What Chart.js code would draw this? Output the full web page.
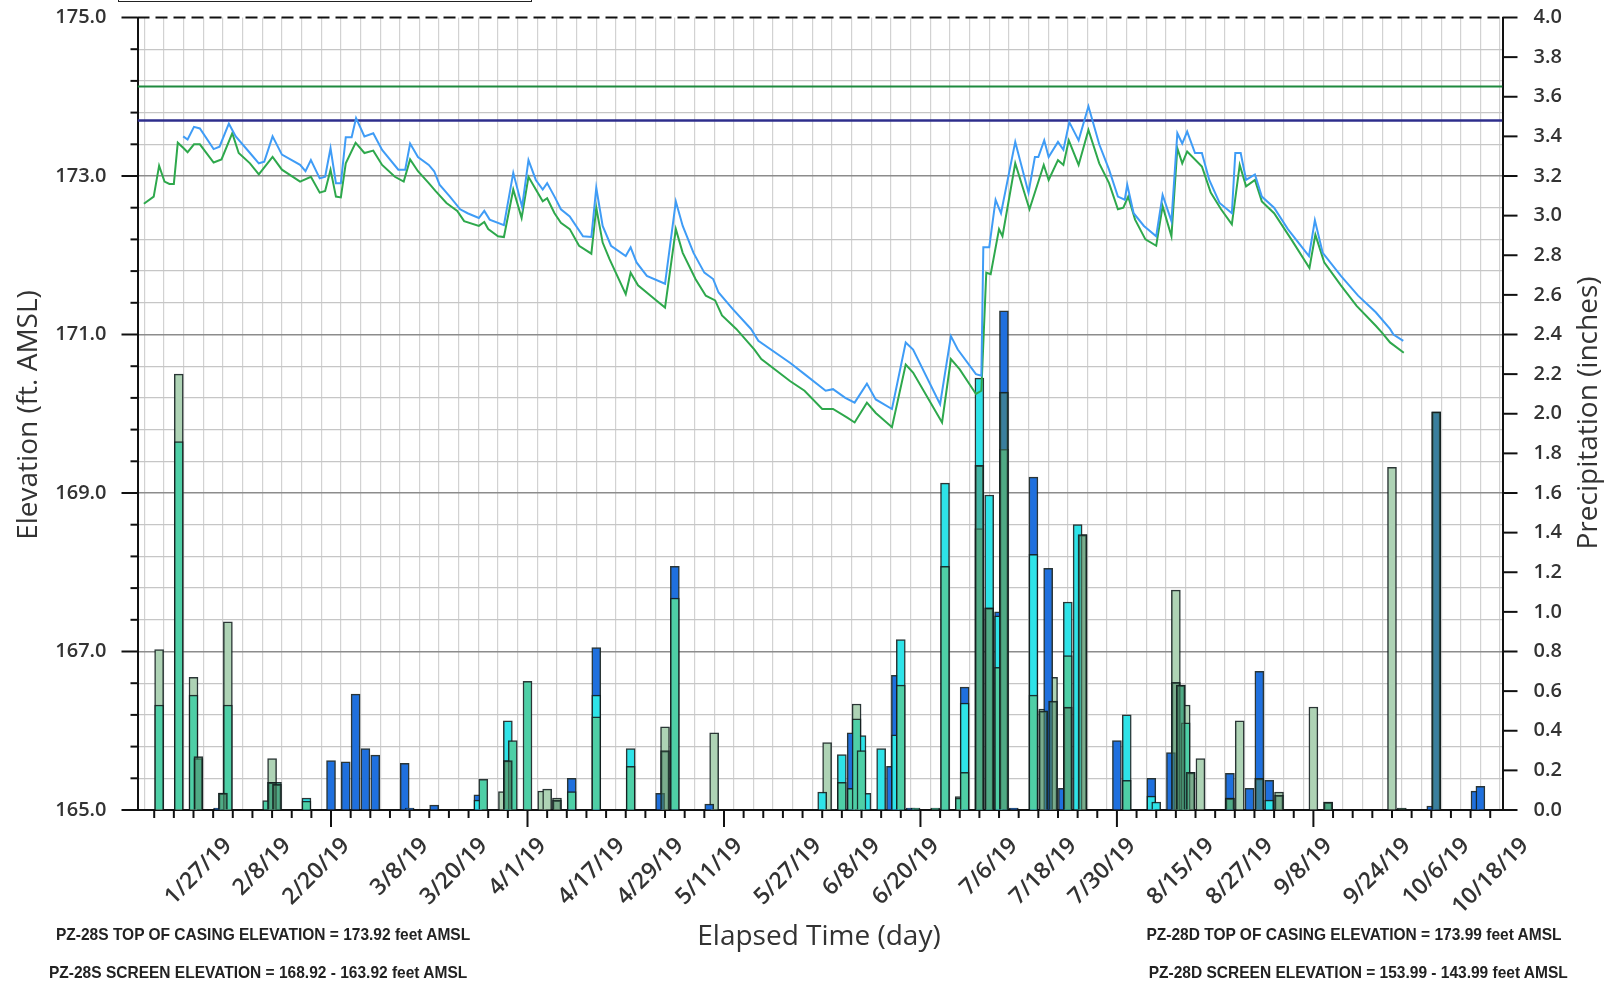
<!DOCTYPE html>
<html>
<head>
<meta charset="utf-8">
<title>PZ-28 Hydrograph</title>
<script src="https://cdn.jsdelivr.net/npm/chart.js@4.4.1/dist/chart.umd.min.js"></script>
<style>
  html, body { margin: 0; padding: 0; background: #fff; }
  #wrap { position: relative; width: 1610px; height: 984px; overflow: hidden; }
  #hydro { position: absolute; left: 0; top: 0; }
  .note {
    position: absolute;
    font-family: 'Liberation Sans', Arial, sans-serif;
    font-weight: bold;
    font-size: 16.5px;
    line-height: 18px;
    color: #222;
    white-space: nowrap;
    transform: scaleX(0.94);
  }
  .note.l { transform-origin: left center; }
  .note.r { transform-origin: right center; }
  .legend-box { position: absolute; left: 118px; top: -30px; width: 412px; height: 30px; border: 1.5px solid #222; }
</style>
</head>
<body>
<div id="wrap">
  <canvas id="hydro" width="1610" height="984"></canvas>
  <div class="legend-box"></div>
  <div class="note l" style="left:56px; top:925px;">PZ-28S TOP OF CASING ELEVATION = 173.92 feet AMSL</div>
  <div class="note l" style="left:49px; top:963px;">PZ-28S SCREEN ELEVATION = 168.92 - 163.92 feet AMSL</div>
  <div class="note r" style="right:49px; top:925px;">PZ-28D TOP OF CASING ELEVATION = 173.99 feet AMSL</div>
  <div class="note r" style="right:42px; top:963px;">PZ-28D SCREEN ELEVATION = 153.99 - 143.99 feet AMSL</div>
</div>
<script>
// x values are days since 1/1/19

// PZ-28S water level (ft AMSL)
const pz28sDays = [19.9,20.8,22.1,23.3,26.1,27.3,29.2,30.6,33.5,35.3,36.4,38.1,40.0,43.7,44.8,45.9,47.7,48.8,49.9,51.0,52.0,53.0,54.2,55.1,56.8,58.6,60.4,63.7,65.1,66.1,67.7,69.9,71.0,72.1,74.2,76.3,77.8,80.1,81.2,82.3,85.2,87.1,88.9,90.2,91.7,93.1,94.0,95.5,96.8,98.6,101.3,103.0,104.0,105.3,107.0,110.0,111.0,112.2,114.3,118.0,120.2,121.6,123.8,126.0,127.8,128.9,131.8,135.5,137.0,143.5,146.4,150.7,152.2,154.7,156.6,159.1,160.9,164.2,167.0,168.5,174.0,176.2,177.6,181.3,182.4,182.8,184.0,185.3,186.4,189.3,192.0,193.3,194.0,195.2,196.1,198.0,199.1,200.3,202.2,204.2,206.4,208.4,210.2,211.6,212.1,213.4,215.5,218.0,219.3,221.1,222.3,223.3,224.3,225.9,227.3,228.8,230.9,233.4,234.1,235.2,236.3,238.1,239.5,242.0,244.8,249.1,250.3,251.9,255.6,259.1,262.7,265.6,266.3,268.3];
const pz28sLevel = [173.50,173.46,173.62,173.60,173.34,173.37,173.66,173.50,173.29,173.16,173.18,173.50,173.27,173.14,173.06,173.20,172.97,172.99,173.35,172.91,172.91,173.49,173.49,173.73,173.50,173.54,173.33,173.08,173.08,173.41,173.24,173.14,173.06,172.89,172.74,172.58,172.53,172.47,172.56,172.45,172.38,173.04,172.61,173.20,172.95,172.83,172.91,172.74,172.58,172.49,172.24,172.23,172.85,172.37,172.12,171.99,172.10,171.91,171.74,171.64,172.68,172.37,172.03,171.78,171.70,171.53,171.32,171.07,170.92,170.64,170.50,170.29,170.31,170.20,170.14,170.38,170.18,170.06,170.90,170.81,170.12,170.98,170.81,170.50,170.48,172.10,172.10,172.70,172.53,173.43,172.79,173.24,173.24,173.45,173.24,173.43,173.33,173.68,173.45,173.88,173.40,173.08,172.74,172.70,172.89,172.53,172.37,172.24,172.76,172.43,173.54,173.41,173.56,173.29,173.29,172.95,172.66,172.53,173.29,173.29,172.95,173.02,172.74,172.60,172.33,171.99,172.44,172.03,171.74,171.49,171.28,171.07,171.00,170.92];

// PZ-28D water level (ft AMSL)
const pz28dDays = [11.9,13.9,15.0,16.1,17.1,18.0,18.8,20.0,20.8,22.1,23.3,26.1,27.7,29.9,31.2,33.5,35.3,38.1,40.0,43.7,45.9,47.7,48.8,49.9,51.0,52.0,53.0,55.0,56.8,58.6,60.4,63.0,64.8,66.1,67.7,69.9,71.3,73.5,75.7,77.1,80.1,81.2,82.0,84.0,85.2,87.1,88.8,90.2,91.7,93.1,94.0,95.5,96.8,98.6,100.5,103.0,104.0,105.3,106.7,110.0,111.0,112.5,115.8,118.0,120.2,121.6,124.2,126.3,128.2,129.6,132.5,136.2,137.6,143.5,146.4,150.0,152.2,155.1,156.6,159.1,160.9,164.2,167.0,168.5,174.4,176.2,178.0,181.3,182.4,183.4,184.3,186.0,186.7,189.3,192.2,195.1,196.1,198.0,199.1,200.2,202.2,204.2,206.4,208.4,210.2,211.3,212.3,213.7,215.8,218.0,219.3,221.1,222.3,223.3,224.3,227.3,229.1,231.2,233.4,235.0,236.3,238.1,239.5,242.0,245.5,249.2,250.4,252.2,255.6,258.8,262.7,264.0,265.6,268.4];
const pz28dLevel = [172.65,172.74,173.13,172.93,172.90,172.90,173.42,173.35,173.30,173.40,173.40,173.17,173.21,173.54,173.29,173.16,173.02,173.24,173.08,172.93,172.99,172.79,172.81,173.08,172.74,172.73,173.16,173.42,173.29,173.32,173.14,172.99,172.93,173.21,173.06,172.91,172.81,172.66,172.56,172.43,172.37,172.42,172.33,172.24,172.23,172.83,172.47,172.99,172.83,172.68,172.72,172.53,172.41,172.33,172.12,172.02,172.60,172.16,171.95,171.51,171.78,171.62,171.45,171.34,172.33,172.03,171.70,171.49,171.43,171.24,171.07,170.81,170.69,170.41,170.29,170.06,170.06,169.95,169.89,170.14,170.01,169.83,170.62,170.52,169.89,170.69,170.56,170.25,170.29,171.78,171.76,172.33,172.24,173.16,172.58,173.14,172.95,173.20,173.14,173.45,173.14,173.58,173.16,172.91,172.58,172.60,172.74,172.45,172.20,172.12,172.62,172.24,173.35,173.16,173.31,173.12,172.79,172.58,172.39,173.14,172.87,172.95,172.68,172.53,172.20,171.84,172.26,171.91,171.62,171.36,171.11,171.02,170.90,170.77];

// reference elevations (ft AMSL)
const upperRefElev = 174.13;
const lowerRefElev = 173.70;

// daily precipitation (inches), one pair of arrays per gauge
const gaugeSageDays = [15,19,22,29,38,85,93,94,96,118,128,151,157,178,195,197,203,222,224,225,227,235,239,243,250,266];
const gaugeSageRain = [0.81,2.2,0.67,0.95,0.26,0.093,0.096,0.105,0.06,0.42,0.39,0.34,0.535,0.068,0.51,0.67,1.39,1.11,0.53,0.19,0.26,0.45,0.16,0.09,0.52,1.73];

const gaugeBlueDays = [27,50,53,55,57,59,65,66,71,80,99,104,117,120,127,156,164,165,168,179,186,187,189,193,196,199,210,217,221,233,237,239,241,274,275,283,284];
const gaugeBlueRain = [0.01,0.25,0.243,0.585,0.31,0.277,0.235,0.01,0.025,0.076,0.16,0.82,0.084,1.23,0.03,0.39,0.22,0.68,0.01,0.62,1.0,2.52,0.01,1.68,1.22,0.11,0.35,0.16,0.29,0.185,0.11,0.70,0.15,0.02,2.01,0.095,0.12];

const gaugeCyanDays = [45,80,86,104,111,150,154,158,159,162,165,166,175,179,182,184,186,193,200,202,212,217,218,241];
const gaugeCyanRain = [0.06,0.05,0.45,0.58,0.31,0.09,0.28,0.376,0.084,0.31,0.38,0.86,1.65,0.54,2.18,1.59,0.98,1.29,1.05,1.44,0.48,0.07,0.04,0.05];

const gaugeTealDays = [15,19,22,23,28,29,37,38,39,45,81,86,87,90,99,104,111,120,154,156,157,158,166,169,173,175,178,179,182,184,186,187,193,200,212,223,224,233,253];
const gaugeTealRain = [0.53,1.86,0.58,0.26,0.085,0.53,0.047,0.14,0.14,0.045,0.155,0.25,0.35,0.65,0.093,0.47,0.22,1.07,0.14,0.11,0.46,0.30,0.63,0.01,0.01,1.23,0.06,0.19,1.42,1.02,0.72,1.82,0.58,0.78,0.15,0.63,0.44,0.06,0.04];

const gaugeGreyDays = [23,28,38,39,86,96,118,182,184,187,195,197,200,203,222,223,225,233,239,243,253,268,275];
const gaugeGreyRain = [0.27,0.085,0.14,0.13,0.25,0.05,0.30,1.74,1.02,2.11,0.5,0.55,0.52,1.39,0.645,0.63,0.19,0.06,0.16,0.075,0.04,0.01,2.01];

// date labels along the time axis
const dateLabels = ['1/27/19','2/8/19','2/20/19','3/8/19','3/20/19','4/1/19','4/17/19','4/29/19','5/11/19','5/27/19','6/8/19','6/20/19','7/6/19','7/18/19','7/30/19','8/15/19','8/27/19','9/8/19','9/24/19','10/6/19','10/18/19'];

const xMin = 10.6, xMax = 288.5;
const xTickFirst = 14, xTickStep = 4, xMajorEvery = 40;

const FONT = '"Open Sans", "DejaVu Sans", sans-serif';

function dayOfYear(label) {
  const [m, d, y] = label.split('/').map(Number);
  return (Date.UTC(2000 + y, m - 1, d) - Date.UTC(2000 + y, 0, 1)) / 86400000;
}

function pairs(xs, ys) {
  return xs.map((x, i) => ({ x: x, y: ys[i] }));
}

function isWhole(v) {
  return Math.abs(v - Math.round(v)) < 1e-6;
}

function rainBars(label, days, rain, fill, order) {
  return {
    type: 'bar',
    label: label,
    data: pairs(days, rain),
    yAxisID: 'y2',
    backgroundColor: fill,
    borderColor: 'rgba(20,32,32,0.9)',
    borderWidth: 1.5,
    barThickness: 9,
    grouped: false,
    order: order
  };
}

function levelLine(label, days, level, color, width, order) {
  return {
    type: 'line',
    label: label,
    data: pairs(days, level),
    yAxisID: 'y',
    borderColor: color,
    borderWidth: width,
    pointRadius: 0,
    tension: 0,
    fill: false,
    order: order
  };
}

// tick marks, dashed top edge, date labels and axis titles
const axisDecor = {
  id: 'axisDecor',
  afterDraw(chart) {
    const { ctx, chartArea: a, scales } = chart;
    const x = scales.x, y = scales.y, y2 = scales.y2;
    const seg = (x1, y1, x2, y2_) => { ctx.beginPath(); ctx.moveTo(x1, y1); ctx.lineTo(x2, y2_); ctx.stroke(); };

    ctx.save();
    ctx.strokeStyle = '#111';
    ctx.lineWidth = 2;
    ctx.setLineDash([12, 6]);
    seg(a.left, a.top, a.right, a.top);
    ctx.setLineDash([]);

    y.ticks.forEach(t => {
      const py = y.getPixelForValue(t.value);
      seg(a.left - (isWhole(t.value) ? 16 : 7), py, a.left, py);
    });
    y2.ticks.forEach(t => {
      const py = y2.getPixelForValue(t.value);
      seg(a.right, py, a.right + 15, py);
    });
    x.ticks.forEach(t => {
      const px = x.getPixelForValue(t.value);
      const major = Math.abs((t.value - 10) % xMajorEvery) < 1e-6;
      seg(px, a.bottom, px, a.bottom + (major ? 17 : 8));
    });

    ctx.fillStyle = '#333';
    ctx.font = '600 23px ' + FONT;
    ctx.textAlign = 'right';
    ctx.textBaseline = 'middle';
    dateLabels.forEach(lbl => {
      const px = x.getPixelForValue(dayOfYear(lbl));
      ctx.save();
      ctx.translate(px + 15, a.bottom + 32);
      ctx.rotate(-Math.PI / 4);
      ctx.fillText(lbl, 0, 0);
      ctx.restore();
    });

    ctx.font = '28px ' + FONT;
    ctx.textAlign = 'center';
    ctx.fillText('Elapsed Time (day)', 819, 937);
    ctx.save();
    ctx.translate(29, 415);
    ctx.rotate(-Math.PI / 2);
    ctx.fillText('Elevation (ft. AMSL)', 0, 0);
    ctx.restore();
    ctx.save();
    ctx.translate(1589, 413);
    ctx.rotate(-Math.PI / 2);
    ctx.fillText('Precipitation (inches)', 0, 0);
    ctx.restore();
    ctx.restore();
  }
};

const ctx = document.getElementById('hydro').getContext('2d');

new Chart(ctx, {
  type: 'line',
  data: {
    datasets: [
      levelLine('PZ-28S', pz28sDays, pz28sLevel, '#3f9cf6', 2, 0),
      levelLine('PZ-28D', pz28dDays, pz28dLevel, '#2ea84c', 2, 0),
      levelLine('Upper reference', [xMin, xMax], [upperRefElev, upperRefElev], '#1f8a3f', 2, 1),
      levelLine('Lower reference', [xMin, xMax], [lowerRefElev, lowerRefElev], '#2e2e8c', 2.5, 1),
      rainBars('Gauge 5', gaugeGreyDays, gaugeGreyRain, 'rgba(80,140,105,0.55)', 2),
      rainBars('Gauge 4', gaugeTealDays, gaugeTealRain, '#4ecfa6', 3),
      rainBars('Gauge 3', gaugeCyanDays, gaugeCyanRain, '#2ee3e8', 4),
      rainBars('Gauge 2', gaugeBlueDays, gaugeBlueRain, '#1f70de', 5),
      rainBars('Gauge 1', gaugeSageDays, gaugeSageRain, '#aed3b5', 6)
    ]
  },
  options: {
    responsive: false,
    devicePixelRatio: 1,
    animation: false,
    layout: { padding: { top: 17.5, left: 0, right: 0, bottom: 0 } },
    plugins: { legend: { display: false }, tooltip: { enabled: false } },
    scales: {
      x: {
        type: 'linear',
        min: xMin,
        max: xMax,
        offset: false,
        afterBuildTicks: scale => {
          const ticks = [];
          for (let v = xTickFirst; v <= xMax; v += xTickStep) ticks.push({ value: v });
          scale.ticks = ticks;
        },
        afterFit: scale => {
          scale.height = 174;
          scale.paddingLeft = 0;
          scale.paddingRight = 0;
        },
        ticks: { display: false },
        grid: { color: '#d2d2d2', lineWidth: 1.2, drawTicks: false },
        border: { display: true, color: '#111', width: 2 }
      },
      y: {
        type: 'linear',
        position: 'left',
        min: 165,
        max: 175,
        afterBuildTicks: scale => {
          const ticks = [];
          for (let i = 0; i <= 50; i++) ticks.push({ value: Math.round((165 + i * 0.2) * 10) / 10 });
          scale.ticks = ticks;
        },
        afterFit: scale => {
          scale.width = 137.5;
          scale.paddingTop = 0;
          scale.paddingBottom = 0;
        },
        ticks: {
          padding: 31,
          color: '#333',
          font: { family: FONT, size: 20, weight: '600' },
          callback: v => isWhole(v) ? v.toFixed(1) : ''
        },
        grid: {
          drawTicks: false,
          color: c => {
            const v = c.tick.value;
            if (v >= 174.99 || v <= 165.01) return 'rgba(0,0,0,0)';
            return isWhole(v) ? '#8c8c8c' : '#c6c6c6';
          },
          lineWidth: c => isWhole(c.tick.value) ? 1.6 : 1.2
        },
        border: { display: true, color: '#111', width: 2 }
      },
      y2: {
        type: 'linear',
        position: 'right',
        min: 0,
        max: 4,
        afterBuildTicks: scale => {
          const ticks = [];
          for (let i = 0; i <= 20; i++) ticks.push({ value: Math.round(i * 0.2 * 10) / 10 });
          scale.ticks = ticks;
        },
        afterFit: scale => {
          scale.width = 107.5;
          scale.paddingTop = 0;
          scale.paddingBottom = 0;
        },
        ticks: {
          padding: 31,
          color: '#333',
          font: { family: FONT, size: 20, weight: '600' },
          callback: v => v.toFixed(1)
        },
        grid: { drawOnChartArea: false, drawTicks: false },
        border: { display: true, color: '#111', width: 2 }
      }
    }
  },
  plugins: [axisDecor]
});
</script>
</body>
</html>
